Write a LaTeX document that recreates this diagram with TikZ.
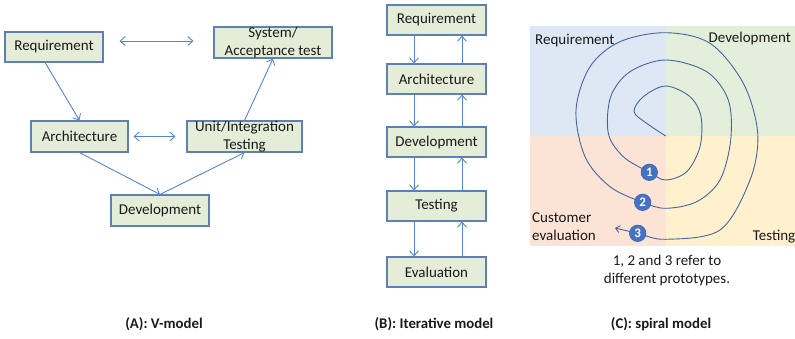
\documentclass[tikz,border=0pt]{standalone}
\usepackage{fontspec}
\setmainfont{Carlito}
\usetikzlibrary{arrows.meta,calc}
\definecolor{boxfill}{HTML}{E3EDD8}
\definecolor{boxdraw}{HTML}{5E7FB8}
\definecolor{arr}{HTML}{5585D2}
\definecolor{qblue}{HTML}{DEE8F4}
\definecolor{qgreen}{HTML}{E3EFDB}
\definecolor{qpink}{HTML}{FBE3D6}
\definecolor{qyellow}{HTML}{FFF1CE}
\definecolor{spir}{HTML}{46659F}
\definecolor{circ}{HTML}{4472C4}
\definecolor{txt}{HTML}{1A1A1A}
\tikzset{
  stagebox/.style={draw=boxdraw, line width=1.1pt, fill=boxfill, inner sep=0pt,
    font=\fontsize{15}{18}\selectfont, text=txt, align=center},
  flow/.style={draw=arr, line width=0.9pt, -{Straight Barb[length=5pt,width=9pt]}},
  dbl/.style={draw=arr, line width=0.9pt, {Straight Barb[length=5pt,width=9pt]}-{Straight Barb[length=5pt,width=9pt]}},
  lbl/.style={font=\fontsize{15}{18}\selectfont, text=txt, inner sep=0pt},
  caption/.style={font=\fontsize{14.8}{17}\selectfont\bfseries, text=txt, inner sep=0pt},
  proto/.style={circle, fill=circ, draw=spir, line width=0.6pt, minimum size=16.5pt, inner sep=0pt,
    text=white, font=\fontsize{13}{13}\selectfont\bfseries}
}
\begin{document}
\begin{tikzpicture}[x=1pt,y=-1pt]
\useasboundingbox (0,0) rectangle (795,338);
% ---------- (A) V-model ----------
\node[stagebox, minimum width=98pt, minimum height=30pt] (req) at (54,47) {Requirement};
\node[stagebox, minimum width=118pt, minimum height=31pt] (sys) at (273,42.5) {System/\\Acceptance test};
\node[stagebox, minimum width=97pt, minimum height=31pt] (arch) at (79.5,136.5) {Architecture};
\node[stagebox, minimum width=115pt, minimum height=31pt] (unit) at (244.5,136.5) {Unit/Integration\\Testing};
\node[stagebox, minimum width=98pt, minimum height=31pt] (dev) at (160,210.5) {Development};
\draw[flow] ($(req.south west)!0.41!(req.south east)$) -- (arch.north);
\draw[flow] (arch.south) -- (dev.north);
\draw[flow] (dev.north) -- (unit.south);
\draw[flow] (unit.north) -- (sys.south);
\draw[dbl] ([xshift=16pt,yshift=6pt]req.east) -- ([xshift=-20pt,yshift=1.5pt]sys.west);
\draw[dbl] ([xshift=5pt]arch.east) -- ([xshift=-11pt]unit.west);
\node[caption] (capA) at (164,324) {(A): V-model};
% ---------- (B) Iterative model ----------
\node[stagebox, minimum width=99pt, minimum height=30pt] (ireq) at (436.5,20) {Requirement};
\node[stagebox, minimum width=99pt, minimum height=30pt] (iarch) at (436.5,79) {Architecture};
\node[stagebox, minimum width=99pt, minimum height=30pt] (idev) at (436.5,142) {Development};
\node[stagebox, minimum width=99pt, minimum height=30pt] (itest) at (436.5,206) {Testing};
\node[stagebox, minimum width=99pt, minimum height=30pt] (ieval) at (436.5,272) {Evaluation};
\foreach \a/\b in {ireq/iarch, iarch/idev, idev/itest, itest/ieval}{
  \draw[flow] ([xshift=-22.5pt]\a.south) -- ([xshift=-22.5pt]\b.north);
  \draw[flow] ([xshift=25.5pt]\b.north) -- ([xshift=25.5pt]\a.south);
}
\node[caption] (capB) at (434,324) {(B): Iterative model};
% ---------- (C) spiral model ----------
\fill[qblue] (530,26) rectangle (666,136);
\fill[qgreen] (666,26) rectangle (795,136);
\fill[qpink] (530,136) rectangle (666,246);
\fill[qyellow] (666,136) rectangle (795,246);
\node[lbl, anchor=west] (sreq) at (535,41) {Requirement};
\node[lbl, anchor=east] (sdev) at (791,38) {Development};
\node[lbl, anchor=west, align=left] (seval) at (532,227) {Customer\\evaluation};
\node[lbl, anchor=east] (stest) at (795.5,237) {Testing};
\draw[spir, line width=0.9pt, -{Straight Barb[length=4pt,width=7pt]}]
  plot[smooth, tension=0.55] coordinates {
  (665.7,136) (646.7,123.3) (634,111.7) (643.3,96.7) (665.7,86) (690,96.7)
  (701,116.7) (700,146.7) (686.7,171.7) (665.7,180) (649.3,172.3) (623.3,156.7)
  (608.3,133.3) (610.7,96.7) (630,71.7) (665.7,60) (706.7,71.7) (728.3,100)
  (730.7,140) (720,180) (696.7,201.7) (665.7,208.3) (642.7,202.3) (610,186.7)
  (585,156.7) (576,110) (590,66.7) (620,41.7) (665.7,32.7) (710,43.3)
  (743.3,83.3) (757.7,133.3) (750,180) (720,230) (665.7,239.3) (637.7,233.3) (615,228)};
\node[proto] (p1) at (649.3,172.3) {1};
\node[proto] (p2) at (642.7,202.3) {2};
\node[proto] (p3) at (637.7,233.3) {3};
\node[lbl, align=center] (note) at (667,270.5) {1, 2 and 3 refer to\\different prototypes.};
\node[caption] (capC) at (661,324) {(C): spiral model};
\end{tikzpicture}
\end{document}
